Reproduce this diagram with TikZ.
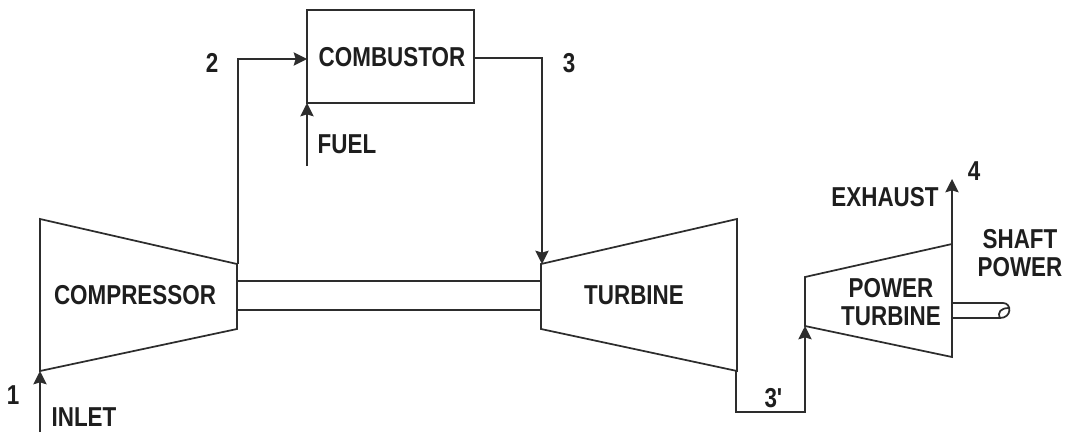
\documentclass[tikz,border=0pt]{standalone}
\usepackage{fontspec}
\setmainfont[FakeStretch=0.82]{Liberation Sans}
\usetikzlibrary{arrows.meta}
\tikzset{every picture/.style={line width=1.3pt}}
\tikzset{lbl/.style={inner sep=0.75pt,font=\fontsize{20.5}{21.5}\selectfont\bfseries,align=center,color={rgb,255:red,30;green,30;blue,30}}}
\tikzset{flow/.style={-{Stealth[length=10pt,width=10pt,inset=1.5pt]}}}
\begin{document}
\begin{tikzpicture}[x=0.75pt,y=0.75pt,yscale=-1,xscale=1,color={rgb,255:red,45;green,45;blue,45}]
	\useasboundingbox (0,0) rectangle (1067,432);
	
	%Shape: Compressor
	\coordinate (compA) at (40,219);
	\coordinate (compB) at (237,264);
	\coordinate (compC) at (237,329);
	\coordinate (compD) at (40,371);
	\draw (compA) -- (compB) -- (compC) -- (compD) -- cycle;
	
	%Shape: Turbine
	\coordinate (turbA) at (541,264);
	\coordinate (turbB) at (737,219);
	\coordinate (turbC) at (737,371);
	\coordinate (turbD) at (541,329);
	\draw (turbA) -- (turbB) -- (turbC) -- (turbD) -- cycle;
	
	%Shape: Power turbine
	\coordinate (powA) at (805,277);
	\coordinate (powB) at (952,244);
	\coordinate (powC) at (952,357);
	\coordinate (powD) at (805,326);
	\draw (powA) -- (powB) -- (powC) -- (powD) -- cycle;
	
	%Shape: Combustor
	\coordinate (combA) at (307,10);
	\coordinate (combB) at (474,10);
	\coordinate (combC) at (474,103);
	\coordinate (combD) at (307,103);
	\draw (combA) -- (combB) -- (combC) -- (combD) -- cycle;
	
	%Shaft
	\coordinate (shaftA) at (237,281);
	\coordinate (shaftB) at (541,281);
	\coordinate (shaftC) at (237,310);
	\coordinate (shaftD) at (541,310);
	\draw (shaftA) -- (shaftB);
	\draw (shaftC) -- (shaftD);
	
	%Flow lines
	\coordinate (inletEnd) at (40,432);
	\coordinate (airOut) at (238,264);
	\coordinate (airCorner) at (238,59);
	\coordinate (airIn) at (307,59);
	\coordinate (gasOut) at (474,58);
	\coordinate (gasCorner) at (542,58);
	\coordinate (gasIn) at (542,264);
	\coordinate (fuelEnd) at (307,166);
	\coordinate (lowA) at (736,412);
	\coordinate (lowB) at (805,412);
	\coordinate (powIn) at (805,326);
	\coordinate (exhTop) at (952,179);
	\draw [flow] (inletEnd) -- (compD);
	\draw [flow] (airOut) -- (airCorner) -- (airIn);
	\draw [flow] (gasOut) -- (gasCorner) -- (gasIn);
	\draw [flow] (fuelEnd) -- (combD);
	\draw [flow] (lowA |- turbC) -- (lowA) -- (lowB) -- (powIn);
	\draw [flow] (powB) -- (exhTop);
	
	%Output shaft
	\coordinate (outA) at (952,303);
	\coordinate (outB) at (1003,303);
	\coordinate (outC) at (952,318);
	\coordinate (outD) at (1000,318);
	\draw (outA) -- (outB) .. controls (1012,303) and (1012,318) .. (outD) -- (outC);
	\draw (outD) .. controls (997,312) and (1001,308) .. (1009,308);
	
	% Text Node
	\node [lbl] (compressor) at (135,295) {COMPRESSOR};
	\node [lbl] (combustor) at (392,57) {COMBUSTOR};
	\node [lbl] (turbine) at (634,295) {TURBINE};
	\node [lbl] (powerturbine) at (891,302) {POWER\\TURBINE};
	\node [lbl] (fuel) at (347,144) {FUEL};
	\node [lbl] (inlet) at (84,417) {INLET};
	\node [lbl] (exhaust) at (885,197) {EXHAUST};
	\node [lbl] (shaftpower) at (1020,253) {SHAFT\\POWER};
	\node [lbl] (one) at (13,395) {1};
	\node [lbl] (two) at (212,63) {2};
	\node [lbl] (three) at (569,63) {3};
	\node [lbl] (threep) at (774,398) {3\textquotesingle};
	\node [lbl] (four) at (974,171) {4};
\end{tikzpicture}
\end{document}
